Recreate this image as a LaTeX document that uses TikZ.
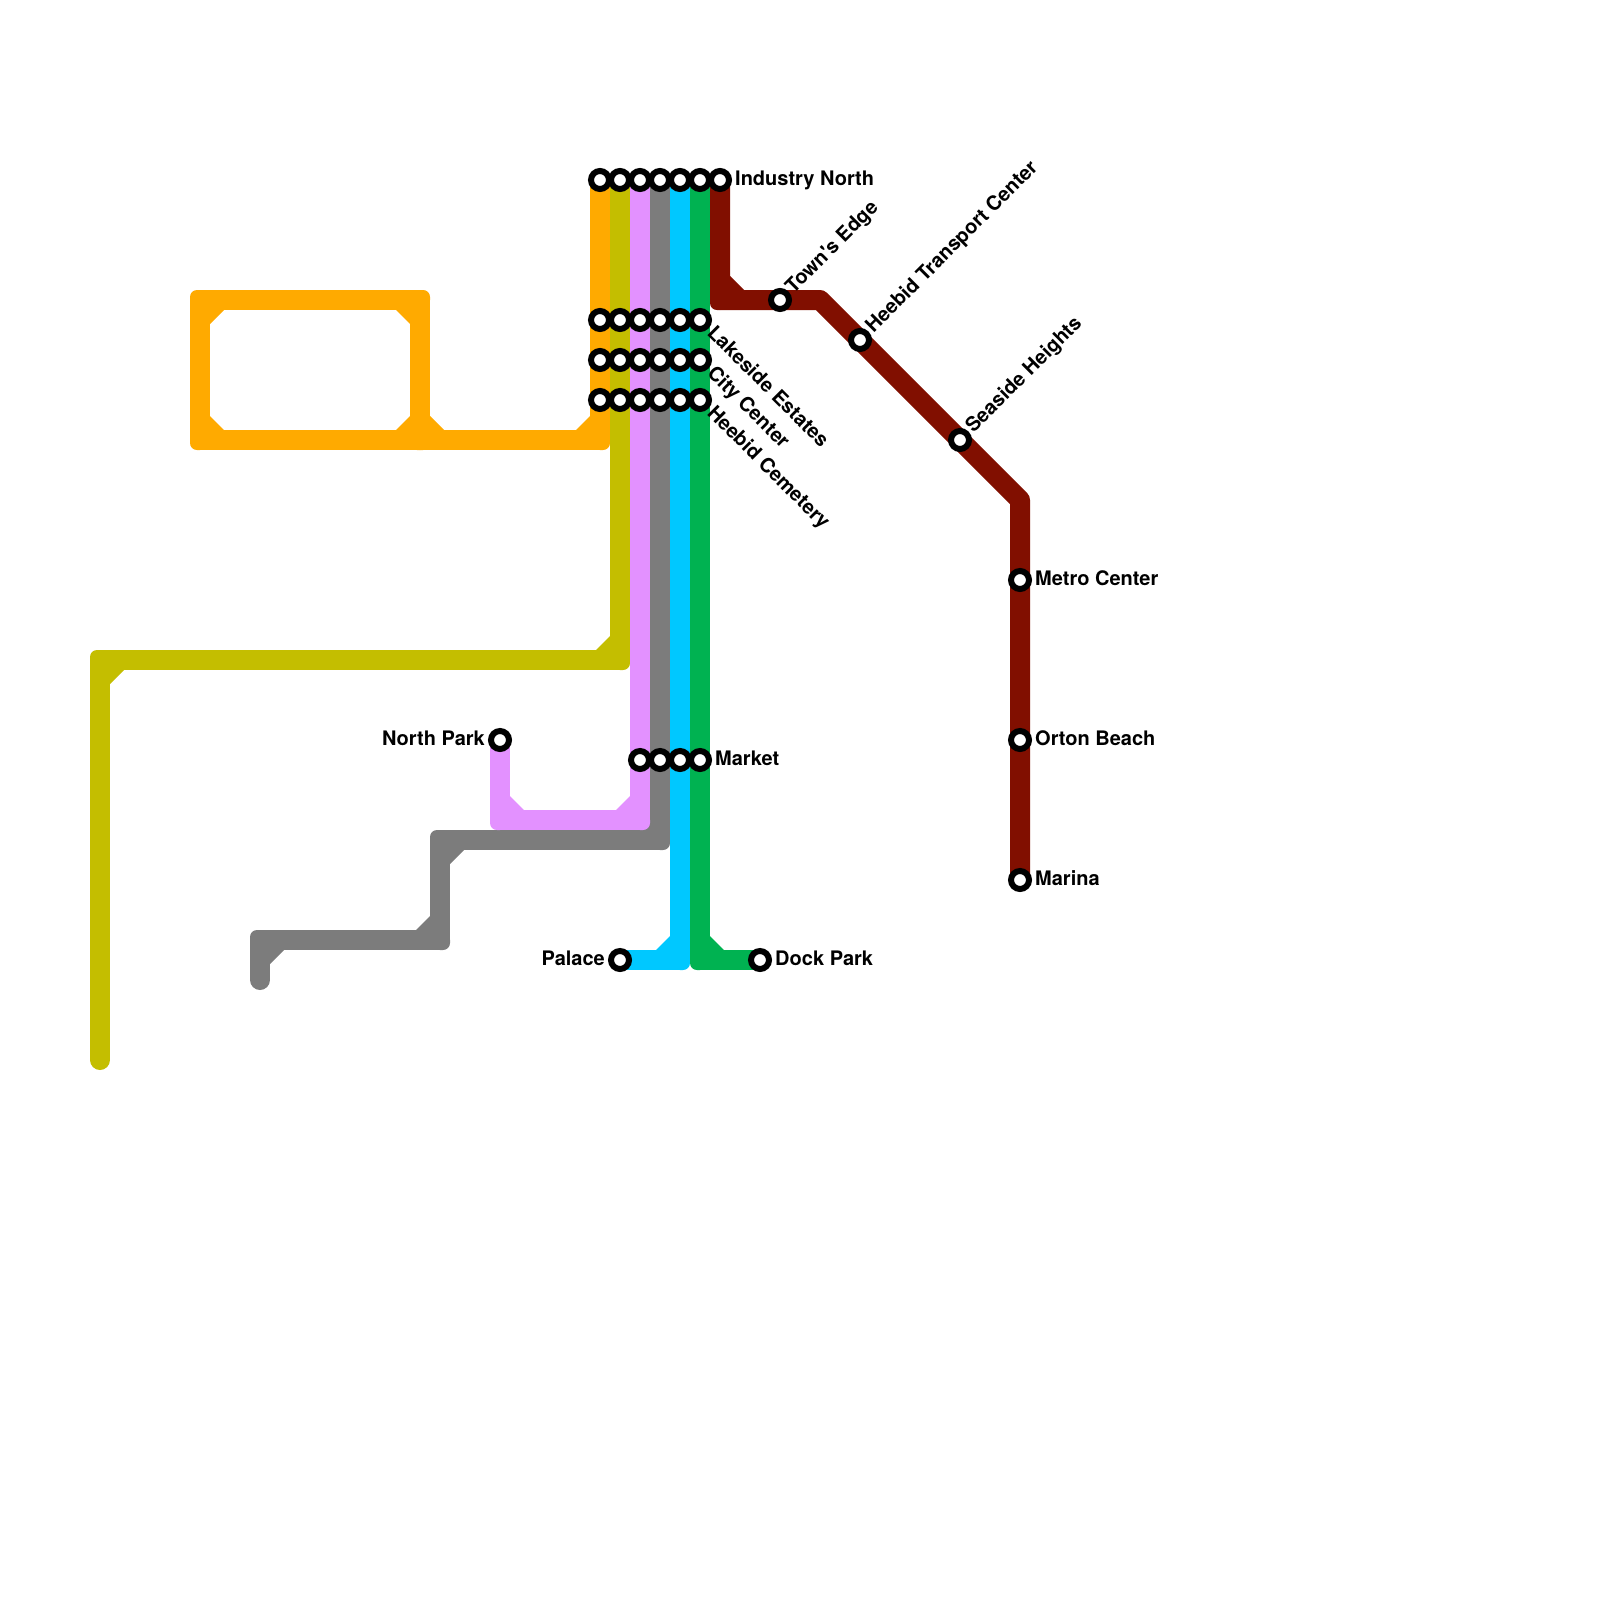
\documentclass[tikz,border=0pt]{standalone}
\usepackage{fontspec}
\newfontfamily\stationfont{TeX Gyre Heros}
\usepackage{xcolor}
\definecolor{amberline}{HTML}{FFAA00}
\definecolor{oliveline}{HTML}{C4BE00}
\definecolor{lilacline}{HTML}{E391FF}
\definecolor{greyline}{HTML}{7C7C7C}
\definecolor{skyline}{HTML}{00C8FF}
\definecolor{kelpline}{HTML}{00B251}
\definecolor{rustline}{HTML}{810F00}
\usetikzlibrary{backgrounds}
\tikzset{
  station/.style={circle,draw=black,fill=white,line width=6pt,
                  minimum size=18pt,inner sep=0pt},
  lbl/.style    ={font=\stationfont\bfseries\fontsize{20}{24}\selectfont,
                  inner sep=0pt,text=black,text height=15pt,text depth=4pt},
  metro/.style  ={line width=20pt,line cap=round,line join=round},
}
% one elbow of a line: inner chamfer and outer corner, (#3,#4) points to the inside
\newcommand{\linebend}[4]{%
  \fill[#1,shift={(#2)},xscale=#3,yscale=#4]
    (-10,0) -- (-10,-3) .. controls (-10,-6.9) and (-6.9,-10) .. (-3,-10)
    -- (0,-10) -- (24,0) -- (24,10) -- (10,24) -- (0,24) -- cycle;}

\begin{document}
\begin{tikzpicture}[x=1pt,y=-1pt]
\useasboundingbox (0,0) rectangle (1600,1600);
%---------------- stations
\node[station] (in1) at (600,180) {};
\node[station] (in2) at (620,180) {};
\node[station] (in3) at (640,180) {};
\node[station] (in4) at (660,180) {};
\node[station] (in5) at (680,180) {};
\node[station] (in6) at (700,180) {};
\node[station] (in7) at (720,180) {};
\node[station] (la1) at (600,320) {};
\node[station] (la2) at (620,320) {};
\node[station] (la3) at (640,320) {};
\node[station] (la4) at (660,320) {};
\node[station] (la5) at (680,320) {};
\node[station] (la6) at (700,320) {};
\node[station] (ci1) at (600,360) {};
\node[station] (ci2) at (620,360) {};
\node[station] (ci3) at (640,360) {};
\node[station] (ci4) at (660,360) {};
\node[station] (ci5) at (680,360) {};
\node[station] (ci6) at (700,360) {};
\node[station] (he1) at (600,400) {};
\node[station] (he2) at (620,400) {};
\node[station] (he3) at (640,400) {};
\node[station] (he4) at (660,400) {};
\node[station] (he5) at (680,400) {};
\node[station] (he6) at (700,400) {};
\node[station] (ma1) at (640,760) {};
\node[station] (ma2) at (660,760) {};
\node[station] (ma3) at (680,760) {};
\node[station] (ma4) at (700,760) {};
\node[station] (npark) at (500,740) {};
\node[station] (palace) at (620,960) {};
\node[station] (dock) at (760,960) {};
\node[station] (towns) at (780,300) {};
\node[station] (transport) at (860,340) {};
\node[station] (seaside) at (960,440) {};
\node[station] (metro) at (1020,580) {};
\node[station] (orton) at (1020,740) {};
\node[station] (marina) at (1020,880) {};
%---------------- labels
\node[lbl,anchor=west] (inlbl) at (735,179.5) {Industry North};
\node[lbl,anchor=west,rotate=-45] (lalbl) at (710,330) {Lakeside Estates};
\node[lbl,anchor=west,rotate=-45] (cilbl) at (710,370) {City Center};
\node[lbl,anchor=west,rotate=-45] (helbl) at (710,410) {Heebid Cemetery};
\node[lbl,anchor=west] (malbl) at (715,759.5) {Market};
\node[lbl,anchor=east] (nparklbl) at (485,739.5) {North Park};
\node[lbl,anchor=east] (palacelbl) at (605,959.5) {Palace};
\node[lbl,anchor=west] (docklbl) at (775,959.5) {Dock Park};
\node[lbl,anchor=west,rotate=45] (townslbl) at (789.5,290.5) {Town's Edge};
\node[lbl,anchor=west,rotate=45] (transportlbl) at (869.5,330) {Heebid Transport Center};
\node[lbl,anchor=west,rotate=45] (seasidelbl) at (969.5,430) {Seaside Heights};
\node[lbl,anchor=west] (metrolbl) at (1035,579.5) {Metro Center};
\node[lbl,anchor=west] (ortonlbl) at (1035,739.5) {Orton Beach};
\node[lbl,anchor=west] (marinalbl) at (1035,879.5) {Marina};
%---------------- bends and free ends
\coordinate (ambA) at (600,440);
\coordinate (ambB) at (420,440);
\coordinate (ambC) at (200,440);
\coordinate (ambD) at (200,300);
\coordinate (ambE) at (420,300);
\coordinate (olvA) at (620,660);
\coordinate (olvB) at (100,660);
\coordinate (olvC) at (100,1060);
\coordinate (lilA) at (500,820);
\coordinate (lilB) at (640,820);
\coordinate (gryA) at (660,840);
\coordinate (gryB) at (440,840);
\coordinate (gryC) at (440,940);
\coordinate (gryD) at (260,940);
\coordinate (gryE) at (260,980);
\coordinate (skyA) at (680,960);
\coordinate (klpA) at (700,960);
\coordinate (rstA) at (720,300);
\coordinate (rstB) at (820,300);
\coordinate (rstC) at (1020,500);
%---------------- lines
\begin{scope}[on background layer]
\draw[metro,draw=amberline] (in1.center) -- (ambA) -- (ambC) -- (ambD) -- (ambE) -- (ambB);
\linebend{amberline}{ambA}{-1}{-1}
\linebend{amberline}{ambB}{-1}{-1}
\linebend{amberline}{ambB}{1}{-1}
\linebend{amberline}{ambC}{1}{-1}
\linebend{amberline}{ambD}{1}{1}
\linebend{amberline}{ambE}{-1}{1}
\draw[metro,draw=oliveline] (in2.center) -- (olvA) -- (olvB) -- (olvC);
\linebend{oliveline}{olvA}{-1}{-1}
\linebend{oliveline}{olvB}{1}{1}
\draw[metro,draw=greyline] (in4.center) -- (gryA) -- (gryB) -- (gryC) -- (gryD) -- (gryE);
\linebend{greyline}{gryA}{-1}{-1}
\linebend{greyline}{gryB}{1}{1}
\linebend{greyline}{gryC}{-1}{-1}
\linebend{greyline}{gryD}{1}{1}
\draw[metro,draw=lilacline] (npark.center) -- (lilA) -- (lilB) -- (in3.center);
\linebend{lilacline}{lilA}{1}{-1}
\linebend{lilacline}{lilB}{-1}{-1}
\draw[metro,draw=skyline] (in5.center) -- (skyA) -- (palace.center);
\linebend{skyline}{skyA}{-1}{-1}
\draw[metro,draw=kelpline] (in6.center) -- (klpA) -- (dock.center);
\linebend{kelpline}{klpA}{1}{-1}
\draw[metro,draw=rustline] (in7.center) -- (rstA) -- (rstB) -- (rstC) -- (marina.center);
\linebend{rustline}{rstA}{1}{-1}
\end{scope}
\end{tikzpicture}
\end{document}
